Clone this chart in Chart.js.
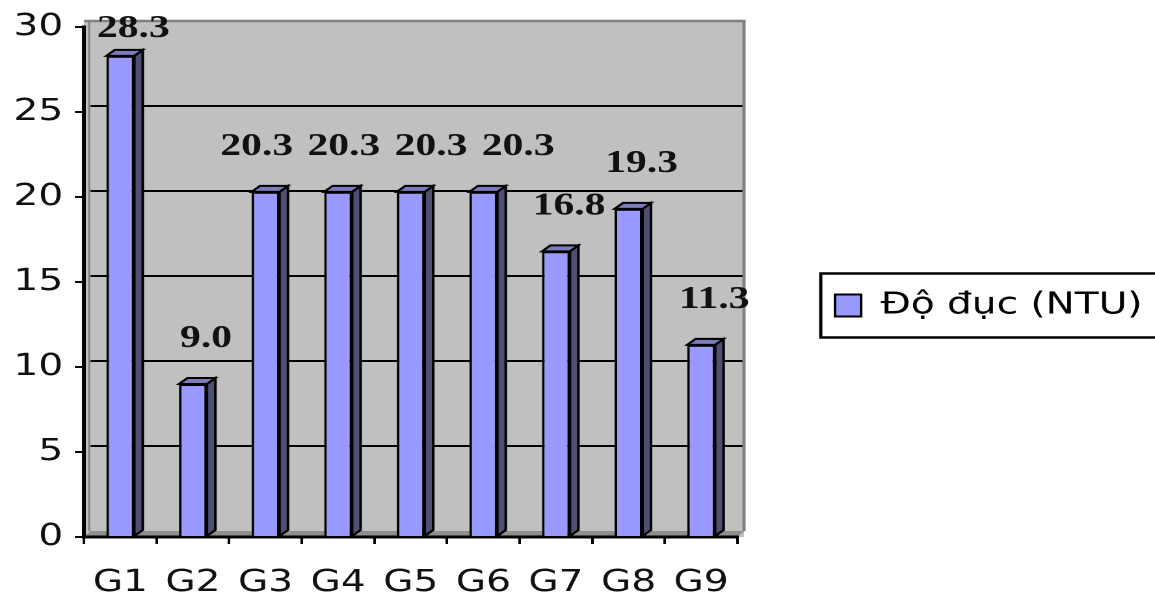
<!DOCTYPE html>
<html><head><meta charset="utf-8">
<script src="https://cdn.jsdelivr.net/npm/chart.js@4.4.1/dist/chart.umd.min.js"></script>
<style>
html,body{margin:0;padding:0;background:#fff;overflow:hidden;}
#wrap{position:absolute;left:0;top:0;width:888px;height:600px;transform:scaleX(1.300676);transform-origin:0 0;}
</style></head><body>
<div id="wrap"><canvas id="c" width="888" height="600"></canvas></div>
<script>
const categories = ['G1','G2','G3','G4','G5','G6','G7','G8','G9'];
const seriesName = 'Độ đục (NTU)';
const turbidity = [28.3, 9.0, 20.3, 20.3, 20.3, 20.3, 16.8, 19.3, 11.3];
const yTicks = [0, 5, 10, 15, 20, 25, 30];

const DX = 5, DY = 6;       // back wall depth
const BD = 6.5, BH = 6;     // bar 3D depth
const LABEL_GAP = 11;       // min gap between neighbouring value labels
const LEGEND_SHIFT = -7;    // legend sits slightly above the vertical middle

const wallPlugin = {
  id: 'wall3d',
  afterLayout(chart) {
    const lg = chart.legend;
    if (lg) { lg.top += LEGEND_SHIFT; lg.bottom += LEGEND_SHIFT; }
  },
  beforeDraw(chart) {
    const {ctx, chartArea: a, scales: {y}} = chart;
    const top = y.getPixelForValue(yTicks[yTicks.length - 1]) - DY;
    ctx.save();
    ctx.fillStyle = '#c0c0c0';
    ctx.fillRect(a.left, top, a.right + DX - a.left, a.bottom - top);
    // floor
    ctx.fillStyle = '#8f8f8f';
    ctx.beginPath();
    ctx.moveTo(a.left, a.bottom);
    ctx.lineTo(a.left + DX, a.bottom - DY);
    ctx.lineTo(a.right + DX, a.bottom - DY);
    ctx.lineTo(a.right, a.bottom);
    ctx.closePath();
    ctx.fill();
    // gridlines on back wall
    ctx.strokeStyle = '#000';
    ctx.lineWidth = 2;
    yTicks.forEach(v => {
      if (v <= yTicks[0] || v >= yTicks[yTicks.length - 1]) return;
      const yy = y.getPixelForValue(v) - DY;
      ctx.beginPath();
      ctx.moveTo(a.left + DX, yy);
      ctx.lineTo(a.right + DX, yy);
      ctx.stroke();
    });
    // wall borders
    ctx.strokeStyle = '#808080';
    ctx.lineWidth = 2.5;
    ctx.beginPath();
    ctx.moveTo(a.left, top);
    ctx.lineTo(a.right + DX, top);
    ctx.lineTo(a.right + DX, a.bottom - DY);
    ctx.stroke();
    ctx.lineWidth = 1.5;
    ctx.beginPath();
    ctx.moveTo(a.left + DX - 1, top);
    ctx.lineTo(a.left + DX - 1, a.bottom - DY);
    ctx.stroke();
    ctx.restore();
  },
  afterDatasetsDraw(chart) {
    const {ctx} = chart;
    const meta = chart.getDatasetMeta(0);
    ctx.save();
    ctx.lineWidth = 2;
    ctx.strokeStyle = '#000';
    ctx.lineJoin = 'miter';
    meta.data.forEach(bar => {
      const L = bar.x - bar.width / 2, R = bar.x + bar.width / 2, T = bar.y, B = bar.base;
      ctx.fillStyle = '#4f4f72';
      ctx.beginPath();
      ctx.moveTo(R, T); ctx.lineTo(R + BD, T - BH); ctx.lineTo(R + BD, B - BH); ctx.lineTo(R, B);
      ctx.closePath(); ctx.fill(); ctx.stroke();
      ctx.fillStyle = '#7b7bbd';
      ctx.beginPath();
      ctx.moveTo(L, T); ctx.lineTo(L + BD, T - BH); ctx.lineTo(R + BD, T - BH); ctx.lineTo(R, T);
      ctx.closePath(); ctx.fill(); ctx.stroke();
    });
    // value labels (with simple collision spreading like Excel)
    ctx.font = 'bold 32px "Liberation Serif", "Times New Roman", serif';
    ctx.textAlign = 'center';
    ctx.textBaseline = 'alphabetic';
    ctx.fillStyle = '#111';
    const items = meta.data.map((bar, i) => {
      const text = turbidity[i].toFixed(1);
      return {
        text,
        x: bar.x + 10,
        y: Math.max(bar.y - 37, chart.chartArea.top + 10),
        w: ctx.measureText(text).width
      };
    });
    const groups = [];
    items.forEach((it, i) => {
      const prev = items[i - 1];
      if (prev && Math.abs(prev.y - it.y) < 4 && (it.x - prev.x) < (it.w + prev.w) / 2 + LABEL_GAP) {
        groups[groups.length - 1].push(it);
      } else {
        groups.push([it]);
      }
    });
    groups.forEach(g => {
      if (g.length < 2) return;
      const mean = g.reduce((s, it) => s + it.x, 0) / g.length;
      const pitch = Math.max(...g.map(it => it.w)) + LABEL_GAP;
      g.forEach((it, k) => { it.x = mean + (k - (g.length - 1) / 2) * pitch; });
    });
    items.forEach(it => ctx.fillText(it.text, it.x, it.y));
    ctx.restore();
  },
  afterDraw(chart) {
    const lg = chart.legend;
    if (!lg || !lg.legendHitBoxes || !lg.legendHitBoxes.length) return;
    const hb = lg.legendHitBoxes[0];
    const cy = hb.top + hb.height / 2;
    const {ctx} = chart;
    ctx.save();
    ctx.strokeStyle = '#000';
    ctx.lineWidth = 2.5;
    ctx.strokeRect(hb.left - 11, cy - 32, 400, 64);
    ctx.restore();
  }
};

Chart.defaults.font.family = '"DejaVu Sans", Verdana, sans-serif';
Chart.defaults.color = '#000';

new Chart(document.getElementById('c'), {
  type: 'bar',
  data: {
    labels: categories,
    datasets: [{
      label: seriesName,
      data: turbidity,
      backgroundColor: '#9999ff',
      borderColor: '#000',
      borderWidth: 2,
      categoryPercentage: 1,
      barPercentage: 0.385
    }]
  },
  options: {
    responsive: false,
    animation: false,
    devicePixelRatio: 2,
    layout: {padding: {top: 25, left: 0, right: 0, bottom: 0}},
    plugins: {
      tooltip: {enabled: false},
      legend: {
        position: 'right',
        maxWidth: 321,
        labels: {
          boxWidth: 20,
          boxHeight: 22,
          padding: 75,
          color: '#000',
          font: {size: 30}
        }
      }
    },
    scales: {
      x: {
        grid: {drawOnChartArea: false, offset: true, tickLength: 7, tickColor: '#000', lineWidth: 2},
        border: {display: true, color: '#000', width: 3},
        ticks: {padding: 21, font: {size: 30}, color: '#111'},
        afterFit(s) { s.height = 63; }
      },
      y: {
        min: yTicks[0],
        max: yTicks[yTicks.length - 1],
        ticks: {stepSize: 5, padding: 9, font: {size: 30}, color: '#111'},
        grid: {drawOnChartArea: false, tickLength: 7, tickColor: '#000', lineWidth: 2},
        border: {display: true, color: '#000', width: 3},
        afterFit(s) { s.width = 64.6; }
      }
    }
  },
  plugins: [wallPlugin]
});
</script>
</body></html>
